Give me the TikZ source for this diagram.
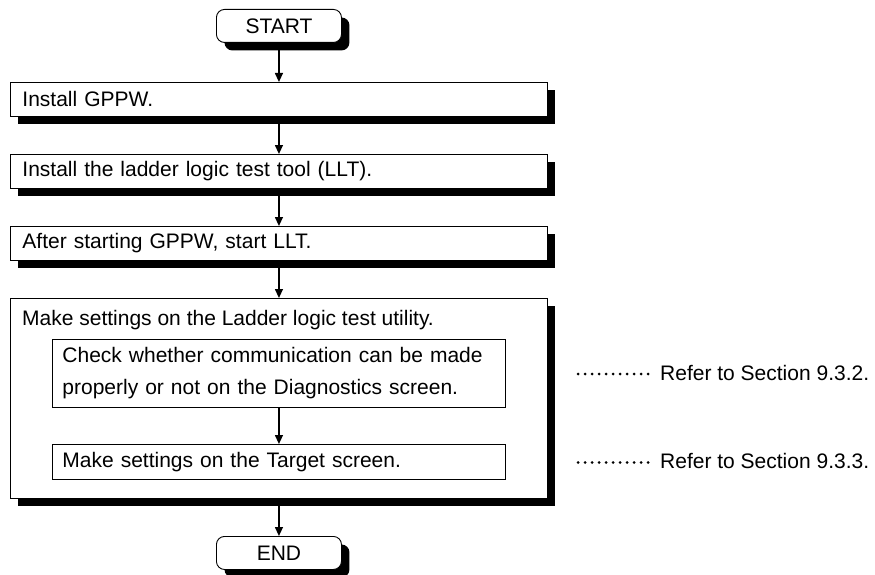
\documentclass[tikz,border=0pt]{standalone}
\usepackage{fontspec}
\setmainfont{Liberation Sans}
\usetikzlibrary{arrows.meta,shadows}
\begin{document}
\begin{tikzpicture}[x=1pt,y=-1pt,
  font=\fontsize{21}{32}\selectfont,
  shad/.style={drop shadow={shadow xshift=8pt,shadow yshift=-8pt,opacity=1,fill=black}},
  stepbox/.style={draw=black,line width=0.9pt,fill=white,rectangle,anchor=north west,
    minimum width=537pt,minimum height=34pt,inner xsep=12pt,inner ysep=0pt,
    text width=513pt,align=left},
  subbox/.style={draw=black,line width=0.9pt,fill=white,rectangle,anchor=north west,
    minimum width=453pt,inner xsep=10pt,inner ysep=0pt,text width=433pt,align=left},
  term/.style={draw=black,line width=0.9pt,fill=white,rounded corners=8pt,anchor=north west,
    minimum width=125pt,minimum height=33pt,inner sep=0pt},
  flow/.style={line width=1.3pt,-{Triangle[length=9pt,width=8pt]}},
  leader/.style={line width=3pt,line cap=round,dash pattern=on 0pt off 7pt},
  lbl/.style={anchor=base west,inner sep=0pt}]
\useasboundingbox (0,0) rectangle (875,575);

\node[term,shad] (start) at (216,9) {START};
\node[stepbox,shad] (b1) at (10,82) {Install GPPW.};
\node[stepbox,shad] (b2) at (10,154) {Install the ladder logic test tool (LLT).};
\node[stepbox,shad] (b3) at (10,226) {After starting GPPW, start LLT.};
\node[draw=black,line width=0.9pt,fill=white,rectangle,anchor=north west,
  minimum width=537pt,minimum height=200pt,inner sep=0pt,shad] (outer) at (10,298) {};
\node[lbl] (t4) at (22,325) {Make settings on the Ladder logic test utility.};
\node[subbox,minimum height=68pt] (i1) at (52,339)
  {Check whether communication can be made\\properly or not on the Diagnostics screen.};
\node[subbox,minimum height=35pt] (i2) at (52,444) {Make settings on the Target screen.};
\node[term,shad] (end) at (216,536) {END};

\draw[flow] (start) -- (b1);
\draw[flow] (b1) -- (b2);
\draw[flow] (b2) -- (b3);
\draw[flow] (b3) -- (outer);
\draw[flow] (i1) -- (i2);
\draw[flow] (outer) -- (end);

\node[lbl] (r1) at (660,380) {Refer to Section 9.3.2.};
\node[lbl] (r2) at (660,468.5) {Refer to Section 9.3.3.};
\coordinate (d1) at (578,374);
\coordinate (d2) at (578,462.5);
\draw[leader] (d1) -- ([xshift=-11.5pt]d1 -| r1.west);
\draw[leader] (d2) -- ([xshift=-11.5pt]d2 -| r2.west);
\end{tikzpicture}
\end{document}
